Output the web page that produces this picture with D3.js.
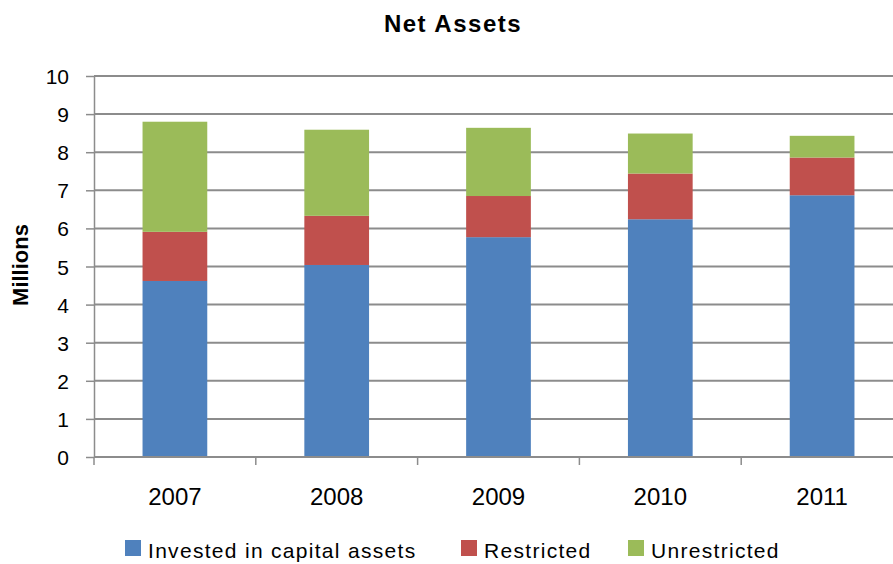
<!DOCTYPE html>
<html>
<head>
<meta charset="utf-8">
<title>Net Assets</title>
<style>
body { margin: 0; background: #fff; }
text { font-family: "Liberation Sans", Arial, sans-serif; fill: #000; }
.grid line { stroke: #8c8c8c; stroke-width: 2; }
.axis path, .axis line { stroke: #8c8c8c; stroke-width: 1.5; }
.axis text { fill: #000; }
</style>
</head>
<body>
<svg width="893" height="564"></svg>
<script src="https://d3js.org/d3.v7.min.js"></script>
<script>
var years = ["2007", "2008", "2009", "2010", "2011"];
var invested = [4.62, 5.04, 5.77, 6.24, 6.87];
var restricted = [1.29, 1.29, 1.08, 1.20, 0.99];
var unrestricted = [2.89, 2.26, 1.79, 1.05, 0.57];
var seriesNames = ["Invested in capital assets", "Restricted", "Unrestricted"];
var colors = ["#4F81BD", "#C0504D", "#9BBB59"];
var yTicks = [0, 1, 2, 3, 4, 5, 6, 7, 8, 9, 10];

var svg = d3.select("svg");
var plotLeft = 94, plotRight = 903, plotTop = 76, plotBottom = 457;

var rows = years.map(function(yr, i) {
    return { year: yr, invested: invested[i], restricted: restricted[i], unrestricted: unrestricted[i] };
});
var stack = d3.stack().keys(["invested", "restricted", "unrestricted"])(rows);

var x = d3.scaleBand().domain(years).range([plotLeft, plotRight]).paddingInner(0.6).paddingOuter(0.3);
var xb = d3.scaleBand().domain(years).range([plotLeft, plotRight]);
var y = d3.scaleLinear().domain([0, 10]).range([plotBottom, plotTop]);

// gridlines
svg.append("g").attr("class", "grid")
    .selectAll("line").data(yTicks.slice(1)).enter().append("line")
    .attr("x1", plotLeft).attr("x2", plotRight)
    .attr("y1", function(d) { return y(d); }).attr("y2", function(d) { return y(d); });

// y axis
var yAxis = svg.append("g").attr("class", "axis")
    .attr("transform", "translate(" + plotLeft + ",0)")
    .call(d3.axisLeft(y).tickValues(yTicks).tickSize(8).tickPadding(17).tickSizeOuter(0));
yAxis.selectAll("text").style("font-size", "21px").attr("dy", "0.36em");

// bars
svg.append("g").selectAll("g").data(stack).enter().append("g")
    .attr("fill", function(d, i) { return colors[i]; })
    .selectAll("rect").data(function(d) { return d; }).enter().append("rect")
    .attr("x", function(d) { return x(d.data.year); })
    .attr("width", x.bandwidth())
    .attr("y", function(d) { return y(d[1]); })
    .attr("height", function(d) { return y(d[0]) - y(d[1]); });

// x axis
var xAxis = svg.append("g").attr("class", "axis")
    .attr("transform", "translate(0," + plotBottom + ")")
    .call(d3.axisBottom(xb).tickSize(0).tickPadding(31).tickSizeOuter(0));
xAxis.select(".domain").remove();
xAxis.selectAll("text").style("font-size", "24px");
svg.append("line").attr("x1", plotLeft).attr("x2", plotRight).attr("y1", plotBottom).attr("y2", plotBottom)
    .attr("stroke", "#8c8c8c").attr("stroke-width", 2);
svg.append("g").selectAll("line").data(years).enter().append("line")
    .attr("x1", function(d) { return xb(d); }).attr("x2", function(d) { return xb(d); })
    .attr("y1", plotBottom).attr("y2", plotBottom + 8)
    .attr("stroke", "#8c8c8c").attr("stroke-width", 1.5);

// title
svg.append("text").attr("x", 453).attr("y", 32).attr("text-anchor", "middle")
    .style("font-size", "24px").style("font-weight", "bold").style("letter-spacing", "1.5px")
    .text("Net Assets");

// y label
svg.append("text").attr("transform", "translate(28,265) rotate(-90)")
    .attr("text-anchor", "middle").style("font-size", "22px").style("font-weight", "bold")
    .text("Millions");

// legend
var legendX = [125, 461, 628];
var lg = svg.append("g").selectAll("g").data(seriesNames).enter().append("g")
    .attr("transform", function(d, i) { return "translate(" + legendX[i] + ",540)"; });
lg.append("rect").attr("width", 16).attr("height", 16).attr("fill", function(d, i) { return colors[i]; });
lg.append("text").attr("x", 23).attr("y", 18).style("font-size", "21px").style("letter-spacing", "1.3px")
    .text(function(d) { return d; });
</script>
</body>
</html>
